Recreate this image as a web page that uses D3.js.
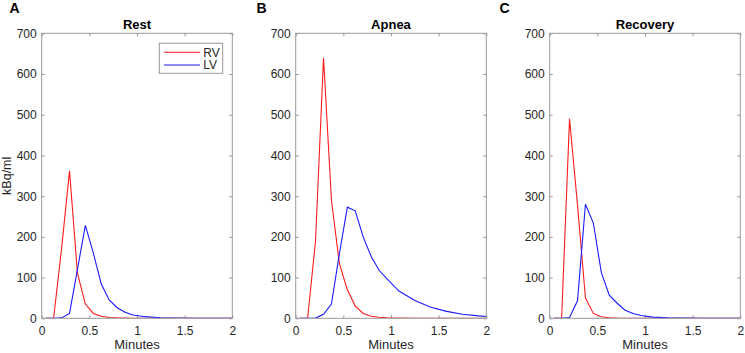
<!DOCTYPE html>
<html>
<head>
<meta charset="utf-8">
<script src="https://cdn.jsdelivr.net/npm/d3@7"></script>
<style>
  body { margin: 0; background: #fff; }
  svg { display: block; font-family: "Liberation Sans", Arial, sans-serif; }
</style>
</head>
<body>
<div id="chart"></div>
<script>
// frame mid-times (minutes)
const times = [0.042, 0.125, 0.208, 0.292, 0.375, 0.458, 0.542, 0.625, 0.708, 0.792,
               0.875, 0.958, 1.083, 1.25, 1.417, 1.583, 1.75, 1.917, 2.083];

const restRV = [0, 0, 170, 362, 111, 35, 12, 5, 2, 1, 0.5, 0.3, 0.1, 0, 0, 0, 0, 0, 0];
const restLV = [0, 0, 1, 12, 120, 228, 160, 84, 45, 26, 15, 8, 4, 1.5, 0.6, 0.3, 0.2, 0.1, 0.1];

const apneaRV = [0, 0, 190, 640, 290, 135, 70, 30, 12, 5, 2.5, 1.2, 0.6, 0.3, 0.2, 0.1, 0.1, 0.1, 0.1];
const apneaLV = [0, 0, 0.5, 10, 35, 158, 273, 264, 200, 152, 118, 97, 67, 44, 27, 17, 10, 6, 3];

const recovRV = [0, 0, 490, 278, 50, 12, 4, 1.5, 0.5, 0.2, 0.1, 0, 0, 0, 0, 0, 0, 0, 0];
const recovLV = [0, 0, 2, 43, 280, 234, 112, 57, 37, 20, 12, 7, 3, 1, 0.5, 0.2, 0.1, 0.1, 0.1];

const panelTitles = ["Rest", "Apnea", "Recovery"];
const panelLetters = ["A", "B", "C"];
const seriesNames = ["RV", "LV"];
const xTicks = [0, 0.5, 1, 1.5, 2];
const yTicks = [0, 100, 200, 300, 400, 500, 600, 700];

const panels = [
    { title: panelTitles[0], letter: panelLetters[0], rv: restRV, lv: restLV },
    { title: panelTitles[1], letter: panelLetters[1], rv: apneaRV, lv: apneaLV },
    { title: panelTitles[2], letter: panelLetters[2], rv: recovRV, lv: recovLV }
];

const width = 745, height = 353;
const plotLeft = [41.7, 295.7, 549.7];
const letterX = [9.5, 256.5, 499.5];
const plotW = 190.6;
const plotTop = 33.3, plotH = 285;
const colors = { RV: "#ff1a1a", LV: "#1a1aff" };
const axisColor = "#999999";
const textColor = "#262626";

const svg = d3.select("#chart").append("svg")
    .attr("width", width)
    .attr("height", height);

const x = d3.scaleLinear().domain([0, 2]).range([0, plotW]);
const y = d3.scaleLinear().domain([0, 700]).range([plotH, 0]);

svg.append("defs").append("clipPath")
    .attr("id", "plotclip")
    .append("rect")
    .attr("width", plotW)
    .attr("height", plotH);

const line = d3.line()
    .x(d => x(d[0]))
    .y(d => y(d[1]));

function styleAxis(g, showLabels) {
    g.select(".domain").remove();
    g.selectAll(".tick line").attr("stroke", axisColor);
    g.selectAll(".tick text")
        .attr("fill", textColor)
        .style("font-size", "12px");
    if (!showLabels) g.selectAll(".tick text").remove();
}

panels.forEach((p, i) => {
    const g = svg.append("g")
        .attr("transform", `translate(${plotLeft[i]},${plotTop})`);

    // axes with inward ticks on all four sides
    g.append("g")
        .attr("transform", `translate(0,${plotH})`)
        .call(d3.axisBottom(x).tickValues(xTicks).tickFormat(d3.format("")).tickSize(-3).tickPadding(8))
        .call(a => styleAxis(a, true));
    g.append("g")
        .call(d3.axisTop(x).tickValues(xTicks).tickSize(-3))
        .call(a => styleAxis(a, false));
    g.append("g")
        .call(d3.axisLeft(y).tickValues(yTicks).tickSize(-3).tickPadding(5))
        .call(a => styleAxis(a, true));
    g.append("g")
        .attr("transform", `translate(${plotW},0)`)
        .call(d3.axisRight(y).tickValues(yTicks).tickSize(-3))
        .call(a => styleAxis(a, false));

    const lines = g.append("g").attr("clip-path", "url(#plotclip)");
    lines.append("path")
        .datum(times.map((t, k) => [t, p.rv[k]]))
        .attr("d", line)
        .attr("fill", "none")
        .attr("stroke", colors.RV)
        .attr("stroke-width", 1.1);
    lines.append("path")
        .datum(times.map((t, k) => [t, p.lv[k]]))
        .attr("d", line)
        .attr("fill", "none")
        .attr("stroke", colors.LV)
        .attr("stroke-width", 1.1);

    g.append("rect")
        .attr("width", plotW)
        .attr("height", plotH)
        .attr("fill", "none")
        .attr("stroke", axisColor)
        .attr("stroke-width", 1);

    g.append("text")
        .attr("x", plotW / 2)
        .attr("y", -4.5)
        .attr("text-anchor", "middle")
        .style("font-size", "13px")
        .style("font-weight", "bold")
        .attr("fill", "#000")
        .text(p.title);

    g.append("text")
        .attr("x", plotW / 2)
        .attr("y", plotH + 31)
        .attr("text-anchor", "middle")
        .style("font-size", "13px")
        .attr("fill", textColor)
        .text("Minutes");

    svg.append("text")
        .attr("x", letterX[i])
        .attr("y", 13)
        .style("font-size", "14px")
        .style("font-weight", "bold")
        .attr("fill", "#000")
        .text(p.letter);

    if (i === 0) {
        svg.append("text")
            .attr("transform", `translate(11,${plotTop + plotH / 2}) rotate(-90)`)
            .attr("text-anchor", "middle")
            .style("font-size", "12.5px")
            .attr("fill", textColor)
            .text("kBq/ml");

        const legend = g.append("g")
            .attr("transform", `translate(${159.3 - plotLeft[0]},${43.3 - plotTop})`);
        legend.append("rect")
            .attr("width", 63.4)
            .attr("height", 30)
            .attr("fill", "#fff")
            .attr("stroke", axisColor)
            .attr("stroke-width", 1);
        seriesNames.forEach((name, k) => {
            const ly = 9 + k * 12.7;
            legend.append("line")
                .attr("x1", 4.7).attr("x2", 40.7)
                .attr("y1", ly).attr("y2", ly)
                .attr("stroke", colors[name])
                .attr("stroke-width", 1.1);
            legend.append("text")
                .attr("x", 44)
                .attr("y", ly)
                .attr("dy", "0.36em")
                .style("font-size", "12px")
                .attr("fill", textColor)
                .text(name);
        });
    }
});
</script>
</body>
</html>
